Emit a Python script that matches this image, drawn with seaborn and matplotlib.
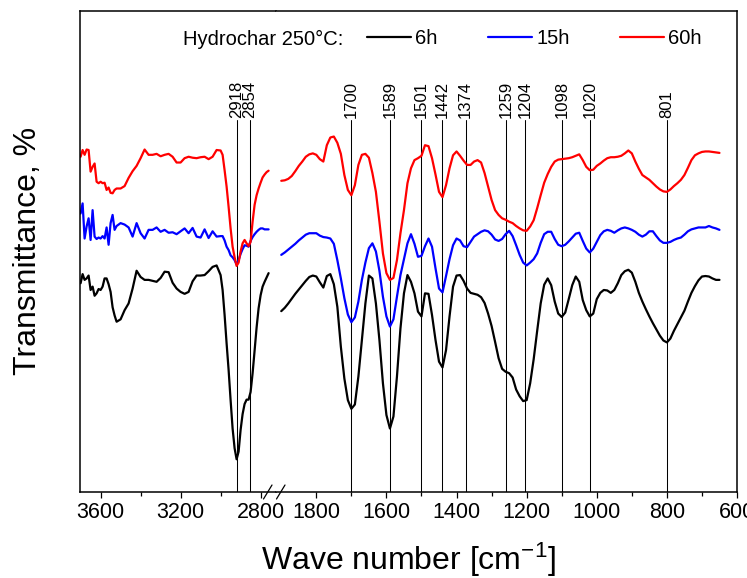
import pandas as pd
import seaborn as sns
import matplotlib.pyplot as plt
from matplotlib.lines import Line2D
from matplotlib.ticker import FixedLocator

# wave numbers (cm-1) sampled along the two axis segments
wn_left = [3700, 3690, 3680, 3670, 3660, 3650, 3640, 3630, 3620, 3610,
           3600, 3590, 3580, 3570, 3560, 3550, 3540, 3530, 3520,
           3500, 3480, 3460, 3440, 3420, 3400, 3380, 3360, 3340, 3320,
           3300, 3280, 3260, 3240, 3220, 3200, 3180, 3160, 3140, 3120,
           3100, 3080, 3060, 3040, 3020,
           3000, 2990, 2980, 2970, 2960, 2950, 2940, 2930, 2920, 2910,
           2900, 2890, 2880, 2870, 2860, 2850, 2840, 2830, 2820, 2810,
           2800, 2790, 2780, 2770, 2760]

t6_left = [43.4, 45.3, 44.1, 44.4, 45.0, 42.0, 42.7, 40.8, 41.3, 42.2,
           42.0, 42.7, 44.4, 44.4, 43.2, 41.6, 38.4, 36.7, 35.4,
           35.9, 37.8, 39.2, 42.3, 46.0, 44.7, 44.1, 44.1, 43.9, 43.7,
           44.5, 45.8, 45.7, 43.5, 42.3, 41.6, 41.2, 41.6, 43.8, 45.0,
           45.0, 45.1, 45.9, 46.8, 47.1,
           45.1, 42.0, 36.8, 30.9, 25.4, 19.1, 13.2, 9.1, 6.8, 8.4,
           12.9, 16.2, 18.3, 19.2, 19.2, 20.8, 24.7, 29.4, 34.2, 38.2,
           40.9, 42.7, 43.7, 44.6, 45.5]

t15_left = [57.9, 60.0, 52.7, 55.2, 56.9, 52.4, 58.6, 53.1, 52.6, 52.9,
            52.7, 53.2, 52.7, 55.0, 51.4, 55.9, 57.6, 54.5, 55.3,
            55.9, 55.6, 55.0, 53.1, 55.9, 53.8, 52.7, 54.5, 54.5, 55.0,
            54.1, 54.5, 53.9, 54.0, 53.6, 54.2, 54.8, 53.8, 54.9, 53.1,
            52.9, 54.6, 52.8, 54.2, 53.1,
            53.2, 53.2, 52.3, 51.0, 50.3, 49.2, 48.8, 48.2, 47.3, 48.2,
            49.5, 50.5, 51.3, 51.2, 51.0, 52.2, 53.0, 53.6, 54.1, 54.5,
            54.8, 54.8, 54.6, 54.6, 54.6]

t60_left = [69.7, 71.1, 70.1, 71.2, 71.1, 66.6, 67.6, 68.3, 64.5, 64.2,
            64.5, 64.2, 64.3, 62.8, 63.3, 62.2, 62.1, 62.8, 63.1,
            63.1, 63.6, 65.3, 66.7, 67.8, 69.4, 71.2, 70.1, 70.1, 70.3,
            69.8, 70.1, 70.3, 69.7, 68.5, 68.5, 69.4, 69.7, 69.5, 69.4,
            69.6, 69.7, 69.2, 69.7, 71.1,
            71.0, 70.1, 66.9, 63.5, 59.3, 54.8, 51.0, 48.8, 47.0, 47.7,
            50.0, 51.7, 52.4, 51.7, 51.1, 52.0, 56.2, 59.7, 61.7, 63.1,
            64.3, 65.4, 66.0, 66.5, 66.8]

wn_right = [1900, 1890, 1880, 1870, 1860, 1850, 1840, 1830, 1820, 1810,
            1800, 1790, 1780, 1770, 1760, 1750, 1740, 1730, 1720, 1710,
            1700, 1690, 1680, 1670, 1660, 1650, 1640, 1630, 1620, 1610,
            1600, 1590, 1580, 1570, 1560, 1550, 1540, 1530, 1520, 1510,
            1500, 1490, 1480, 1470, 1460, 1450, 1440, 1430, 1420, 1410,
            1400, 1390, 1380, 1370, 1360, 1350, 1340, 1330, 1320, 1310,
            1300, 1290, 1280, 1270, 1260, 1250, 1240, 1230, 1220, 1210,
            1200, 1190, 1180, 1170, 1160, 1150, 1140, 1130, 1120, 1110,
            1100, 1090, 1080, 1070, 1060, 1050, 1040, 1030, 1020, 1010,
            1000, 990, 980, 970, 960, 950, 940, 930, 920, 910,
            900, 890, 880, 870, 860, 850, 840, 830, 820, 810,
            800, 790, 780, 770, 760, 750, 740, 730, 720, 710,
            700, 690, 680, 670, 660, 650]

t6_right = [37.6, 38.3, 39.2, 40.2, 41.2, 42.1, 43.0, 43.9, 44.7, 45.0,
            44.8, 43.6, 42.5, 44.9, 45.3, 43.2, 38.5, 30.2, 23.6, 19.1,
            17.3, 18.2, 24.0, 31.6, 39.2, 45.0, 44.4, 39.2, 31.6, 22.6,
            16.0, 13.2, 15.7, 24.0, 34.0, 41.3, 45.1, 43.7, 41.3, 37.5,
            36.5, 41.3, 41.2, 36.8, 31.6, 27.1, 25.9, 29.5, 36.5, 42.7,
            45.0, 45.1, 43.9, 42.3, 41.4, 41.2, 41.0, 40.5, 39.3, 37.1,
            34.5, 31.2, 27.8, 25.6, 25.0, 24.7, 23.8, 21.3, 19.9, 18.9,
            19.1, 22.6, 27.6, 33.5, 39.2, 43.1, 44.4, 43.0, 39.6, 37.1,
            36.4, 37.3, 40.1, 43.0, 44.8, 43.7, 39.9, 37.8, 36.5, 37.1,
            40.1, 41.4, 42.0, 41.9, 41.4, 42.0, 43.4, 45.1, 45.9, 46.2,
            45.6, 43.7, 41.4, 39.6, 38.0, 36.5, 35.1, 33.8, 32.5, 31.5,
            31.1, 31.9, 33.5, 34.9, 36.3, 37.7, 39.6, 41.4, 42.8, 44.0,
            44.8, 44.9, 44.8, 44.4, 44.1, 44.1]

t15_right = [49.3, 49.8, 50.4, 51.0, 51.6, 52.3, 52.9, 53.5, 53.8, 53.8,
             53.8, 53.3, 53.0, 52.9, 52.7, 51.6, 48.2, 44.4, 40.3, 36.9,
             35.3, 36.3, 39.6, 44.1, 47.7, 50.7, 51.7, 50.0, 46.0, 40.6,
             36.5, 34.4, 35.9, 40.6, 45.1, 48.4, 51.7, 53.6, 51.6, 48.9,
             49.1, 51.1, 52.7, 51.0, 46.5, 42.3, 41.5, 44.9, 48.4, 51.3,
             52.7, 52.3, 51.1, 50.9, 52.0, 53.1, 53.6, 54.1, 54.4, 54.2,
             53.5, 52.5, 52.2, 52.6, 53.6, 54.3, 53.2, 51.3, 49.3, 47.7,
             47.1, 47.7, 48.4, 49.6, 51.8, 53.6, 54.1, 54.1, 52.6, 51.4,
             51.1, 51.4, 52.1, 52.9, 53.7, 53.9, 52.2, 50.6, 49.8, 50.6,
             52.0, 53.4, 54.2, 54.5, 54.3, 53.9, 54.4, 54.8, 55.0, 54.8,
             54.5, 54.1, 53.5, 53.1, 53.5, 54.2, 54.2, 53.2, 52.3, 51.8,
             51.8, 52.0, 52.4, 52.7, 52.9, 53.5, 54.2, 54.6, 54.8, 55.0,
             55.0, 55.0, 55.3, 55.0, 54.8, 54.5]

t60_right = [64.7, 64.8, 65.1, 65.7, 66.7, 67.8, 68.7, 69.7, 70.2, 70.4,
             70.1, 69.2, 68.7, 72.1, 73.7, 73.9, 72.6, 70.3, 65.9, 62.8,
             61.7, 63.8, 68.0, 70.1, 70.3, 69.5, 66.3, 62.4, 56.2, 49.6,
             45.5, 44.1, 44.5, 48.2, 53.8, 58.6, 64.2, 67.3, 69.0, 69.4,
             69.9, 72.1, 71.9, 69.4, 66.0, 62.4, 61.3, 63.8, 67.3, 70.0,
             70.8, 69.9, 68.9, 68.0, 68.0, 68.7, 69.0, 68.5, 66.3, 63.5,
             60.7, 58.6, 57.6, 56.9, 56.6, 56.2, 55.9, 55.3, 54.8, 54.4,
             54.3, 55.2, 56.5, 59.0, 61.7, 64.3, 66.1, 67.6, 68.7, 69.1,
             69.2, 69.3, 69.4, 69.6, 69.9, 70.2, 69.0, 67.6, 66.9, 67.0,
             67.8, 68.3, 68.9, 69.4, 69.6, 69.6, 69.7, 69.9, 70.4, 71.0,
             70.4, 68.7, 67.2, 65.9, 65.4, 64.9, 64.2, 63.5, 62.9, 62.5,
             62.4, 62.9, 63.6, 64.2, 64.9, 65.9, 67.4, 69.0, 70.0, 70.4,
             70.7, 70.8, 70.8, 70.7, 70.6, 70.5]

times = ["6h", "15h", "60h"]
colors = {"6h": "#000000", "15h": "#0000ff", "60h": "#ff0000"}

peaks_left = [2918, 2854]
peaks_right = [1700, 1589, 1501, 1442, 1374, 1259, 1204, 1098, 1020, 801]


def _long_frame(wn, series):
    parts = []
    for label, values in zip(times, series):
        parts.append(pd.DataFrame({"wavenumber": wn, "transmittance": values, "time": label}))
    return pd.concat(parts, ignore_index=True)


df_left = _long_frame(wn_left, [t6_left, t15_left, t60_left])
df_right = _long_frame(wn_right, [t6_right, t15_right, t60_right])

sns.set_style("ticks")
plt.rcParams["font.family"] = ["Liberation Sans", "DejaVu Sans"]
plt.rcParams["mathtext.default"] = "regular"
plt.rcParams["text.color"] = "black"
plt.rcParams["axes.edgecolor"] = "black"
plt.rcParams["xtick.color"] = "black"
plt.rcParams["axes.labelcolor"] = "black"

W, H = 747, 578
fig = plt.figure(figsize=(W / 100, H / 100), dpi=100)
ax_l = fig.add_axes([80 / W, 86 / H, 196 / W, 481 / H])
ax_r = fig.add_axes([276 / W, 86 / H, 461 / W, 481 / H])

for ax, df in ((ax_l, df_left), (ax_r, df_right)):
    sns.lineplot(data=df, x="wavenumber", y="transmittance", hue="time",
                 hue_order=times, palette=colors, estimator=None, lw=1.6,
                 legend=False, ax=ax)
    ax.set_ylim(0, 100)
    ax.set_yticks([])
    ax.set_xlabel("")
    ax.set_ylabel("")
    for s in ax.spines.values():
        s.set_linewidth(1.1)
        s.set_color("black")
    ax.tick_params(axis="x", which="major", direction="out", length=4.3,
                   width=0.9, labelsize=15.5, pad=2.7, colors="black")
    ax.tick_params(axis="x", which="minor", direction="out", length=2.7,
                   width=0.9, colors="black")

ax_l.set_xlim(3703, 2723)
ax_r.set_xlim(1915, 600)
ax_l.spines["right"].set_visible(False)
ax_r.spines["left"].set_visible(False)
ax_l.set_xticks([3600, 3200, 2800])
ax_l.xaxis.set_minor_locator(FixedLocator([3400, 3000]))
ax_r.set_xticks([1800, 1600, 1400, 1200, 1000, 800, 600])
ax_r.xaxis.set_minor_locator(FixedLocator([1700, 1500, 1300, 1100, 900, 700]))

# peak markers
for ax, peaks in ((ax_l, peaks_left), (ax_r, peaks_right)):
    for p in peaks:
        ax.axvline(p, ymin=0, ymax=0.774, color="black", lw=0.75, zorder=1)
        ax.text(p, 77.8, str(p), rotation=90, ha="center", va="bottom",
                fontsize=12, color="black")

# axis break marks
for x0 in (263.5, 276.5):
    fig.add_artist(Line2D([x0 / W, (x0 + 8.5) / W], [79 / H, 93 / H],
                          color="black", lw=0.9, transform=fig.transFigure))

handles = [Line2D([], [], color=colors[t], lw=1.6) for t in times]
ax_r.legend(handles, times, ncol=3, loc="center left",
            bbox_to_anchor=(367 / W, (H - 39) / H), bbox_transform=fig.transFigure,
            frameon=False, fontsize=14.5, handlelength=2.2, handletextpad=0.2,
            columnspacing=2.5, borderpad=0, borderaxespad=0, labelcolor="black")
fig.text(183 / W, (H - 45) / H, "Hydrochar 250°C:", fontsize=14.5, ha="left",
         va="baseline", color="black")

fig.text(408.5 / W, 18 / H, "Wave number [cm$^{-1}$]", fontsize=23, ha="center",
         va="center", color="black")
fig.text(28 / W, 0.565, "Transmittance, %", fontsize=23, rotation=90, ha="center",
         va="center", color="black")

fig.savefig("out.png", dpi=100)
